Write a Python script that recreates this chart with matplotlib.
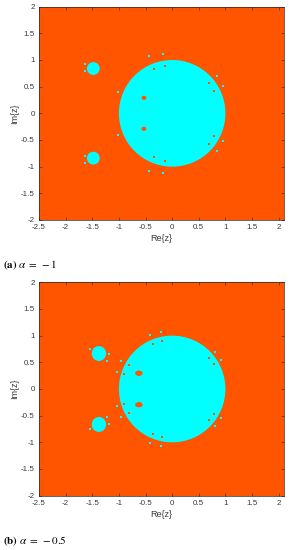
#!/usr/bin/env python3
"""
Stability regions in the complex plane for two values of alpha.
Cyan = stable region, orange = unstable region.
"""

import matplotlib
matplotlib.use('Agg')
import matplotlib.pyplot as plt
from matplotlib.patches import Ellipse

ORANGE = '#ff5400'
CYAN = '#00ffff'

# ---- panel (a): alpha = -1 ----
a_disk = (0.0, 0.0, 2.0, 2.0)             # x, y, width, height
a_blob_x = [-1.48, -1.48]
a_blob_y = [0.84, -0.84]
a_blob_w = [0.24, 0.24]
a_blob_h = [0.24, 0.24]
a_hole_x = [-0.53, -0.53]
a_hole_y = [0.29, -0.29]
a_hole_w = [0.09, 0.09]
a_hole_h = [0.08, 0.08]
a_cdot_x = [-0.44, -0.175, 0.843, 0.956, -1.013, -1.643, -1.643,
            -0.44, -0.175, 0.843, 0.956, -1.013, -1.643, -1.643]
a_cdot_y = [1.075, 1.118, 0.706, 0.518, 0.406, 0.925, 0.80,
            -1.075, -1.118, -0.706, -0.518, -0.406, -0.925, -0.80]
a_odot_x = [-0.344, -0.138, 0.693, 0.781, -0.344, -0.138, 0.693, 0.781]
a_odot_y = [0.826, 0.888, 0.574, 0.424, -0.826, -0.888, -0.574, -0.424]

# ---- panel (b): alpha = -0.5 ----
b_disk = (0.0, 0.0, 2.0, 2.0)
b_blob_x = [-1.375, -1.375]
b_blob_y = [0.665, -0.665]
b_blob_w = [0.27, 0.27]
b_blob_h = [0.28, 0.28]
b_hole_x = [-0.625, -0.625]
b_hole_y = [0.295, -0.295]
b_hole_w = [0.14, 0.14]
b_hole_h = [0.10, 0.10]
b_cdot_x = [-0.424, -0.218, 0.813, 0.926, -0.968, -1.043, -1.538, -1.19, -1.225,
            -0.424, -0.218, 0.813, 0.926, -0.968, -1.043, -1.538, -1.19, -1.225]
b_cdot_y = [1.018, 1.069, 0.688, 0.544, 0.525, 0.319, 0.744, 0.656, 0.531,
            -1.018, -1.069, -0.688, -0.544, -0.525, -0.319, -0.744, -0.656, -0.531]
b_odot_x = [-0.363, -0.188, 0.70, 0.787, -0.818, -0.906,
            -0.363, -0.188, 0.70, 0.787, -0.818, -0.906]
b_odot_y = [0.849, 0.906, 0.587, 0.463, 0.456, 0.281,
            -0.849, -0.906, -0.587, -0.463, -0.456, -0.281]

x_ticks = [-2.5, -2, -1.5, -1, -0.5, 0, 0.5, 1, 1.5, 2]
x_tick_labels = ['-2.5', '-2', '-1.5', '-1', '-0.5', '0', '0.5', '1', '1.5', '2']
y_ticks = [-2, -1.5, -1, -0.5, 0, 0.5, 1, 1.5, 2]
y_tick_labels = ['-2', '-1.5', '-1', '-0.5', '0', '0.5', '1', '1.5', '2']

plt.rcParams['font.family'] = ['Liberation Sans', 'DejaVu Sans']
plt.rcParams['mathtext.fontset'] = 'stix'


def draw_region(ax, disk, bx, by, bw, bh, hx, hy, hw, hh, cx, cy, ox, oy):
    ax.set_facecolor(ORANGE)
    ax.add_patch(Ellipse(disk[:2], disk[2], disk[3], color=CYAN, lw=0))
    for x, y, w, h in zip(hx, hy, hw, hh):
        ax.add_patch(Ellipse((x, y), w, h, color=ORANGE, lw=0))
    for x, y, w, h in zip(bx, by, bw, bh):
        ax.add_patch(Ellipse((x, y), w, h, color=CYAN, lw=0))
    ax.scatter(cx, cy, s=1.3, marker='s', color=CYAN, lw=0)
    ax.scatter(ox, oy, s=1.3, marker='s', color=ORANGE, lw=0)

    ax.set_xlim(-2.5, 2.1)
    ax.set_ylim(-2, 2)
    ax.set_xticks(x_ticks)
    ax.set_xticklabels(x_tick_labels)
    ax.set_yticks(y_ticks)
    ax.set_yticklabels(y_tick_labels)
    ax.tick_params(direction='in', top=True, right=True, length=2.2, width=0.5,
                   labelsize=5.8, colors='#3a3a3a', pad=3)
    for sp in ax.spines.values():
        sp.set_linewidth(0.5)
        sp.set_color('#262626')
    ax.set_xlabel('Re{z}', fontsize=6.5, color='#3a3a3a', labelpad=2)
    ax.set_ylabel('Im{z}', fontsize=6.5, color='#3a3a3a', labelpad=1)


fig = plt.figure(figsize=(2.92, 5.5), dpi=100)
ax1 = fig.add_axes([0.1336, 0.6, 0.839, 0.3879])
ax2 = fig.add_axes([0.1336, 0.0988, 0.839, 0.3879])

draw_region(ax1, a_disk, a_blob_x, a_blob_y, a_blob_w, a_blob_h,
            a_hole_x, a_hole_y, a_hole_w, a_hole_h,
            a_cdot_x, a_cdot_y, a_odot_x, a_odot_y)
draw_region(ax2, b_disk, b_blob_x, b_blob_y, b_blob_w, b_blob_h,
            b_hole_x, b_hole_y, b_hole_w, b_hole_h,
            b_cdot_x, b_cdot_y, b_odot_x, b_odot_y)

fig.text(0.01, 1 - 265 / 550, r'$\mathbf{(a)}\ \alpha\;=\;-1$', fontsize=8,
         va='center', ha='left')
fig.text(0.01, 1 - 541.5 / 550, r'$\mathbf{(b)}\ \alpha\;=\;-0.5$', fontsize=8,
         va='center', ha='left')

fig.savefig('out.png', dpi=100)
